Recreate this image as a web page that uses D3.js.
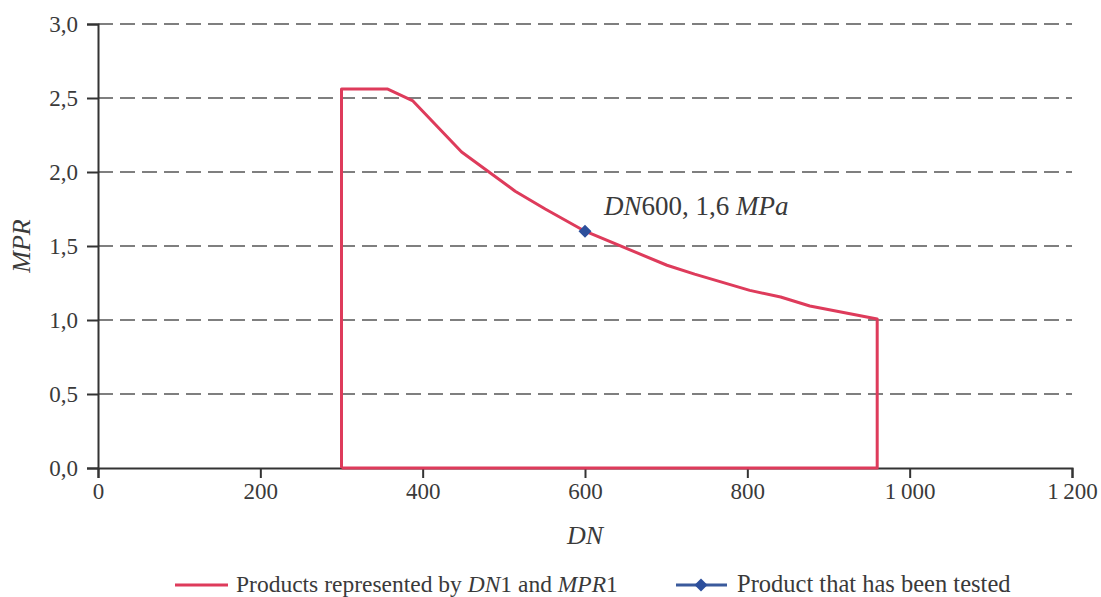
<!DOCTYPE html>
<html>
<head>
<meta charset="utf-8">
<script src="https://cdn.jsdelivr.net/npm/d3@7"></script>
<style>
body { margin: 0; background: #fff; }
svg text { font-family: "Liberation Serif", serif; fill: #3a3a3a; }
</style>
</head>
<body>
<svg id="graph"></svg>
<script>
// axis ticks
var dnTicks = [0, 200, 400, 600, 800, 1000, 1200]
var mprTicks = [0, 0.5, 1.0, 1.5, 2.0, 2.5, 3.0]

// boundary of the product family (DN1 / MPR1)
var boundaryDN  = [300, 300, 357, 388, 448, 514, 551, 600, 701, 735, 803, 841, 877, 960, 960, 300]
var boundaryMPR = [0, 2.56, 2.56, 2.48, 2.135, 1.87, 1.75, 1.6, 1.37, 1.31, 1.2, 1.155, 1.095, 1.007, 0, 0]

// tested product
var testedDN = [600]
var testedMPR = [1.6]

var screen = {width: 1101, height: 597}
var margin = {left: 98, right: 29, top: 24, bottom: 129}

var svg = d3.select("#graph")
    .attr("width", screen.width)
    .attr("height", screen.height)

var xScale = d3.scaleLinear()
    .domain([0, 1200])
    .range([margin.left, screen.width - margin.right])

var yScale = d3.scaleLinear()
    .domain([0, 3])
    .range([screen.height - margin.bottom, margin.top])

var fmtX = function(d)
{
    return d >= 1000 ? d3.format(",")(d).replace(",", "\u2009") : d
}
var fmtY = function(d)
{
    return d3.format(".1f")(d).replace(".", ",")
}

// dashed gridlines
svg.append("g")
    .selectAll("line")
    .data(mprTicks.filter(function(d) { return d > 0 }))
    .enter()
    .append("line")
    .attr("x1", xScale(0))
    .attr("x2", xScale(1200))
    .attr("y1", function(d) { return yScale(d) })
    .attr("y2", function(d) { return yScale(d) })
    .attr("stroke", "#555")
    .attr("stroke-width", 1.5)
    .attr("stroke-dasharray", "15,7")

// x axis
var xAxis = svg.append("g")
    .attr("transform", "translate(0," + yScale(0) + ")")
    .call(d3.axisBottom(xScale).tickValues(dnTicks).tickFormat(fmtX).tickSize(10).tickPadding(5))
xAxis.select(".domain").attr("stroke", "#333").attr("stroke-width", 2)
xAxis.selectAll(".tick line").attr("stroke", "#333").attr("stroke-width", 2)
xAxis.selectAll("text").style("font-size", "23px").attr("fill", "#3a3a3a")

// y axis
var yAxis = svg.append("g")
    .attr("transform", "translate(" + xScale(0) + ",0)")
    .call(d3.axisLeft(yScale).tickValues(mprTicks).tickFormat(fmtY).tickSize(11).tickPadding(9))
yAxis.select(".domain").attr("stroke", "#333").attr("stroke-width", 2)
yAxis.selectAll(".tick line").attr("stroke", "#333").attr("stroke-width", 2)
yAxis.selectAll("text").style("font-size", "23px").attr("fill", "#3a3a3a")

// boundary polygon
var pts = boundaryDN.map(function(d, i) { return [d, boundaryMPR[i]] })
var line = d3.line()
    .x(function(p) { return xScale(p[0]) })
    .y(function(p) { return yScale(p[1]) })

svg.append("path")
    .datum(pts)
    .attr("d", line)
    .attr("fill", "none")
    .attr("stroke", "#de3b5b")
    .attr("stroke-width", 3)
    .attr("stroke-linejoin", "round")

// tested point (square turned 45 degrees)
var marker = d3.symbol().type(d3.symbolSquare).size(85)
svg.selectAll(".tested")
    .data(testedDN)
    .enter()
    .append("path")
    .attr("class", "tested")
    .attr("d", marker)
    .attr("transform", function(d, i) { return "translate(" + xScale(d) + "," + yScale(testedMPR[i]) + ") rotate(45)" })
    .attr("fill", "#2d4f9c")

// annotation
var ann = svg.append("text")
    .attr("x", xScale(600) + 19)
    .attr("y", yScale(1.6) - 16)
    .style("font-size", "27px")
ann.append("tspan").style("font-style", "italic").text("DN")
ann.append("tspan").text("600, 1,6 ")
ann.append("tspan").style("font-style", "italic").text("MPa")

// axis titles
svg.append("text")
    .attr("x", (xScale(0) + xScale(1200)) / 2)
    .attr("y", 544)
    .attr("text-anchor", "middle")
    .style("font-size", "26px")
    .style("font-style", "italic")
    .text("DN")

svg.append("text")
    .attr("transform", "translate(30," + yScale(1.5) + ") rotate(-90)")
    .attr("text-anchor", "middle")
    .style("font-size", "26px")
    .style("font-style", "italic")
    .text("MPR")

// legend
var lg = svg.append("g")
lg.append("line")
    .attr("x1", 175).attr("x2", 228).attr("y1", 585).attr("y2", 585)
    .attr("stroke", "#de3b5b").attr("stroke-width", 3)
var t1 = lg.append("text").attr("x", 236).attr("y", 592).style("font-size", "23.5px")
t1.append("tspan").text("Products represented by ")
t1.append("tspan").style("font-style", "italic").text("DN")
t1.append("tspan").text("1 and ")
t1.append("tspan").style("font-style", "italic").text("MPR")
t1.append("tspan").text("1")

lg.append("line")
    .attr("x1", 676).attr("x2", 727).attr("y1", 585).attr("y2", 585)
    .attr("stroke", "#3a5a9c").attr("stroke-width", 3)
lg.append("path")
    .attr("d", marker)
    .attr("transform", "translate(701,585) rotate(45)")
    .attr("fill", "#2d4f9c")
lg.append("text").attr("x", 737).attr("y", 592).style("font-size", "24.5px")
    .text("Product that has been tested")
</script>
</body>
</html>
